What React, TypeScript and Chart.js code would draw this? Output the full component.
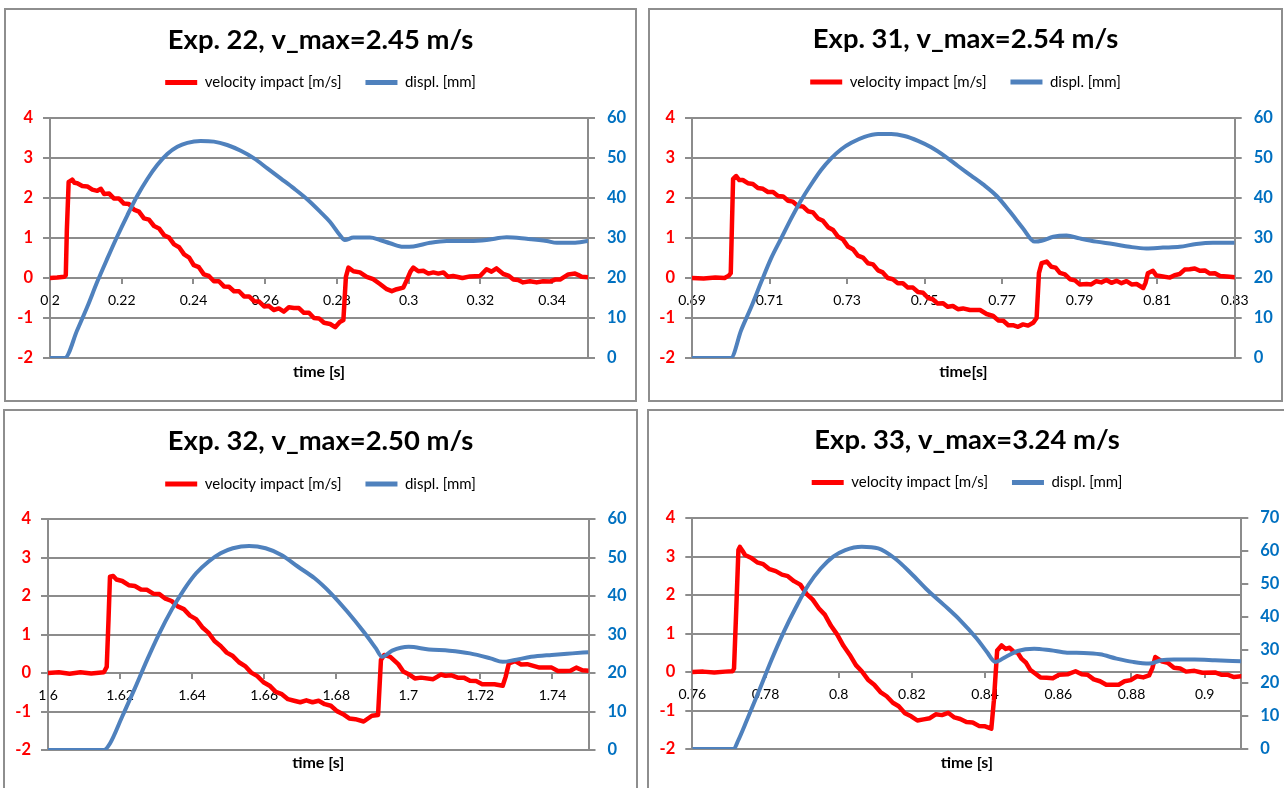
import React, { useEffect, useRef } from "react";
import { Chart, registerables } from "chart.js";

Chart.register(...registerables);

const FONT = "Lato, 'Open Sans', 'DejaVu Sans', sans-serif";
const RED = "#FF0000";
const BLUE = "#4F81BD";
const BLUE_TXT = "#0070C0";
const GRID = "#8C8C8C";
const BORDER = "#8E8E8E";

const VEL_LABEL = "velocity impact [m/s]";
const DISP_LABEL = "displ. [mm]";

// ---------- Exp. 22 ----------
const t22v = [
  0.2, 0.202, 0.204, 0.2044, 0.2047, 0.2052, 0.2058, 0.2062, 0.2068, 0.2076,
  0.209, 0.2104, 0.2118, 0.2132, 0.2142, 0.2151, 0.2165, 0.2178, 0.2192, 0.2206,
  0.222, 0.2234, 0.2248, 0.2262, 0.2276, 0.229, 0.2304, 0.2318, 0.2332, 0.2346,
  0.236, 0.2374, 0.2388, 0.2401, 0.2415, 0.2429, 0.2443, 0.2457, 0.2471, 0.2485,
  0.2499, 0.2513, 0.2527, 0.2541, 0.2555, 0.2569, 0.2583, 0.2597, 0.261, 0.2624,
  0.2638, 0.2652, 0.2666, 0.268, 0.2694, 0.2708, 0.2722, 0.2736, 0.275, 0.2764,
  0.2781, 0.2795, 0.2808, 0.2818, 0.2825, 0.2832, 0.2846, 0.2864, 0.2883, 0.2901,
  0.292, 0.2939, 0.2953, 0.2967, 0.2985, 0.2995, 0.3005, 0.3013, 0.3027, 0.3041,
  0.3055, 0.3069, 0.3083, 0.3097, 0.311, 0.3124, 0.315, 0.3171, 0.3199, 0.3217,
  0.3231, 0.3245, 0.3264, 0.3278, 0.3292, 0.3305, 0.3319, 0.3338, 0.3357, 0.3375,
  0.3394, 0.3408, 0.3422, 0.3445, 0.3464, 0.3472, 0.3482, 0.35,
];
const v22 = [
  0, 0.01, 0.03, 0.07, 1.2, 2.4, 2.43, 2.46, 2.38, 2.37,
  2.3, 2.29, 2.21, 2.18, 2.23, 2.1, 2.11, 1.99, 1.99, 1.86,
  1.85, 1.71, 1.66, 1.49, 1.46, 1.3, 1.24, 1.07, 1.01, 0.84,
  0.77, 0.59, 0.51, 0.32, 0.27, 0.09, 0.05, -0.08, -0.08, -0.21,
  -0.22, -0.33, -0.33, -0.46, -0.46, -0.58, -0.59, -0.71, -0.7, -0.8,
  -0.76, -0.84, -0.73, -0.75, -0.75, -0.87, -0.87, -1.0, -1.01, -1.12,
  -1.15, -1.23, -1.1, -1.05, 0.03, 0.26, 0.17, 0.14, 0.03, -0.03,
  -0.15, -0.28, -0.33, -0.28, -0.24, -0.05, 0.16, 0.26, 0.17, 0.18,
  0.11, 0.14, 0.11, 0.14, 0.03, 0.05, 0.0, 0.04, 0.05, 0.22,
  0.16, 0.24, 0.1, 0.06, -0.04, -0.05, -0.11, -0.08, -0.11, -0.08,
  -0.09, -0.04, -0.04, 0.09, 0.11, 0.08, 0.03, 0.02,
];
const t22d = [0.2, 0.2041, 0.2076, 0.2104, 0.2132, 0.216, 0.2188, 0.2216, 0.2243, 0.2271, 0.2299, 0.2327, 0.2355, 0.2383, 0.242, 0.2457, 0.2494, 0.2532, 0.2569, 0.2606, 0.2643, 0.268, 0.2717, 0.2753, 0.2781, 0.2808, 0.2822, 0.2846, 0.2892, 0.292, 0.2948, 0.2985, 0.3013, 0.306, 0.3106, 0.3171, 0.3217, 0.3273, 0.3329, 0.3385, 0.3413, 0.3459, 0.35];
const d22 = [0, 0, 7.0, 12.8, 19.1, 24.9, 30.5, 35.75, 40.5, 44.7, 48.25, 51.0, 52.8, 53.8, 54.25, 54.1, 53.25, 51.8, 49.9, 47.4, 44.9, 42.4, 39.7, 36.6, 34.0, 30.75, 29.5, 30.1, 30.1, 29.5, 28.7, 27.8, 27.9, 28.8, 29.25, 29.25, 29.5, 30.2, 29.8, 29.25, 28.8, 28.8, 29.25];
const ticks22 = [0.2, 0.22, 0.24, 0.26, 0.28, 0.3, 0.32, 0.34];

// ---------- Exp. 31 ----------
const t31v = [
  0.69, 0.693, 0.696, 0.6984, 0.6995, 0.7, 0.7003, 0.7006, 0.7014, 0.7022,
  0.7031, 0.7044, 0.7057, 0.707, 0.7083, 0.7096, 0.7109, 0.7122, 0.7135, 0.7148,
  0.716, 0.7173, 0.7186, 0.7199, 0.7212, 0.7225, 0.7238, 0.7251, 0.7264, 0.7277,
  0.7289, 0.7302, 0.7315, 0.7328, 0.7341, 0.7354, 0.7367, 0.738, 0.7392, 0.7405,
  0.7418, 0.7431, 0.7444, 0.7457, 0.747, 0.7483, 0.7496, 0.7509, 0.7521, 0.7534,
  0.7547, 0.756, 0.7573, 0.7586, 0.7599, 0.7617, 0.7643, 0.766, 0.7677, 0.769,
  0.7703, 0.7716, 0.7728, 0.7741, 0.7754, 0.7767, 0.778, 0.7789, 0.7795, 0.7802,
  0.7815, 0.7827, 0.7838, 0.7849, 0.7862, 0.7875, 0.7888, 0.79, 0.7918, 0.793,
  0.7943, 0.7956, 0.7969, 0.7982, 0.7995, 0.8008, 0.8021, 0.8034, 0.8047, 0.8064,
  0.807, 0.8076, 0.8089, 0.8098, 0.8107, 0.8133, 0.8145, 0.8158, 0.8171, 0.8184,
  0.8197, 0.821, 0.8223, 0.8236, 0.8249, 0.8262, 0.828, 0.83,
];
const v31 = [
  0, -0.01, 0.01, 0, 0.06, 0.12, 1.3, 2.48, 2.55, 2.45,
  2.45, 2.37, 2.35, 2.25, 2.23, 2.15, 2.15, 2.05, 2.04, 1.93,
  1.91, 1.8, 1.79, 1.67, 1.64, 1.49, 1.43, 1.27, 1.2, 1.03,
  0.97, 0.79, 0.72, 0.56, 0.51, 0.37, 0.34, 0.19, 0.14, 0.0,
  -0.03, -0.13, -0.13, -0.24, -0.24, -0.35, -0.37, -0.5, -0.53, -0.64,
  -0.63, -0.72, -0.7, -0.78, -0.76, -0.8, -0.8, -0.9, -0.95, -1.06,
  -1.07, -1.18, -1.18, -1.22, -1.16, -1.19, -1.12, -1.0, 0.12, 0.37,
  0.41, 0.28, 0.26, 0.13, 0.09, -0.03, -0.06, -0.16, -0.15, -0.16,
  -0.08, -0.11, -0.05, -0.12, -0.07, -0.13, -0.08, -0.16, -0.15, -0.25,
  -0.12, 0.12, 0.18, 0.06, 0.05, 0.01, 0.07, 0.1, 0.21, 0.22,
  0.24, 0.18, 0.19, 0.11, 0.12, 0.05, 0.04, 0.02,
];
const t31d = [0.69, 0.7, 0.7027, 0.7053, 0.7079, 0.7104, 0.713, 0.7156, 0.7182, 0.7208, 0.7233, 0.7259, 0.7285, 0.7311, 0.7345, 0.738, 0.7414, 0.7448, 0.7483, 0.7517, 0.7552, 0.7586, 0.762, 0.7651, 0.7686, 0.772, 0.7754, 0.7784, 0.7802, 0.7832, 0.7866, 0.79, 0.7943, 0.7986, 0.8029, 0.8072, 0.8115, 0.8158, 0.8201, 0.8244, 0.83];
const d31 = [0, 0, 7.0, 12.8, 19.1, 24.9, 29.9, 34.9, 39.5, 43.5, 47.0, 49.9, 52.2, 53.8, 55.3, 56.0, 56.0, 55.5, 54.3, 52.7, 50.5, 48.0, 45.6, 43.4, 40.5, 36.6, 32.4, 29.1, 29.3, 30.3, 30.6, 29.9, 29.1, 28.5, 27.8, 27.4, 27.6, 27.8, 28.5, 28.8, 28.8];
const ticks31 = [0.69, 0.71, 0.73, 0.75, 0.77, 0.79, 0.81, 0.83];

// ---------- Exp. 32 ----------
const t32v = [
  1.6, 1.603, 1.606, 1.609, 1.612, 1.6155, 1.6163, 1.6168, 1.6172, 1.6181,
  1.619, 1.6206, 1.6224, 1.6241, 1.6258, 1.6275, 1.6292, 1.6309, 1.6326, 1.6343,
  1.636, 1.6377, 1.6394, 1.6411, 1.6428, 1.6445, 1.6462, 1.6479, 1.6496, 1.6513,
  1.653, 1.6547, 1.6564, 1.6581, 1.6598, 1.6615, 1.6632, 1.6649, 1.6666, 1.6683,
  1.67, 1.6717, 1.6734, 1.6751, 1.6768, 1.6785, 1.6802, 1.6819, 1.6836, 1.6853,
  1.6876, 1.6899, 1.6916, 1.6924, 1.6933, 1.695, 1.6972, 1.6986, 1.7001, 1.7018,
  1.7035, 1.7069, 1.709, 1.7103, 1.712, 1.7137, 1.7154, 1.7171, 1.7188, 1.7205,
  1.7239, 1.7262, 1.727, 1.7279, 1.7296, 1.7313, 1.733, 1.7364, 1.7398, 1.7415,
  1.7432, 1.745, 1.7466, 1.7483, 1.75,
];
const v32 = [
  0, 0.02, -0.02, 0.02, -0.01, 0.02, 0.16, 1.4, 2.5, 2.52,
  2.43, 2.39, 2.28, 2.26, 2.17, 2.16, 2.06, 2.05, 1.93, 1.87,
  1.73, 1.66, 1.49, 1.4, 1.19, 1.05, 0.83, 0.7, 0.53, 0.44,
  0.28, 0.18, 0.01, -0.08, -0.24, -0.33, -0.49, -0.55, -0.68, -0.72,
  -0.76, -0.71, -0.76, -0.72, -0.81, -0.85, -0.99, -1.07, -1.18, -1.2,
  -1.26, -1.11, -1.09, 0.34, 0.47, 0.42, 0.23, 0.04, -0.03, -0.14,
  -0.12, -0.16, -0.04, -0.07, -0.06, -0.12, -0.12, -0.2, -0.21, -0.29,
  -0.29, -0.33, -0.1, 0.25, 0.31, 0.22, 0.23, 0.14, 0.14, 0.05,
  0.05, 0.06, 0.14, 0.07, 0.06,
];
const t32d = [1.6, 1.6155, 1.6172, 1.6206, 1.6241, 1.6275, 1.6309, 1.6343, 1.6377, 1.6411, 1.6445, 1.6479, 1.6513, 1.6558, 1.6604, 1.6649, 1.6694, 1.674, 1.6785, 1.6831, 1.6876, 1.691, 1.6927, 1.6955, 1.7001, 1.7057, 1.7114, 1.7171, 1.7228, 1.7262, 1.7296, 1.7341, 1.7398, 1.7455, 1.75];
const d32 = [0, 0, 1.7, 8.7, 16.0, 23.4, 30.3, 36.4, 41.6, 45.9, 48.9, 51.1, 52.4, 53.0, 52.4, 50.6, 47.6, 44.6, 40.7, 35.9, 30.7, 26.4, 24.2, 25.8, 26.8, 26.1, 25.8, 25.1, 23.8, 22.9, 23.4, 24.2, 24.7, 25.1, 25.4];
const ticks32 = [1.6, 1.62, 1.64, 1.66, 1.68, 1.7, 1.72, 1.74];

// ---------- Exp. 33 ----------
const t33v = [
  0.76, 0.763, 0.766, 0.769, 0.771, 0.7714, 0.772, 0.7726, 0.773, 0.7737,
  0.7744, 0.776, 0.7777, 0.7794, 0.7811, 0.7828, 0.7845, 0.7861, 0.7878, 0.7895,
  0.7912, 0.7929, 0.7946, 0.7962, 0.7979, 0.7996, 0.8013, 0.803, 0.8047, 0.8063,
  0.808, 0.8097, 0.8114, 0.8131, 0.8148, 0.8164, 0.8181, 0.8198, 0.8215, 0.8232,
  0.8249, 0.8265, 0.8282, 0.8299, 0.8316, 0.8332, 0.8349, 0.8366, 0.8383, 0.84,
  0.8417, 0.8424, 0.8433, 0.8445, 0.8456, 0.8467, 0.8478, 0.8489, 0.85, 0.8512,
  0.8523, 0.8534, 0.8551, 0.8568, 0.8585, 0.8602, 0.8625, 0.8647, 0.8664, 0.868,
  0.8697, 0.8714, 0.8731, 0.8748, 0.8765, 0.8781, 0.8798, 0.8815, 0.8832, 0.8848,
  0.8857, 0.8865, 0.8882, 0.8899, 0.8916, 0.8933, 0.8949, 0.8972, 0.8994, 0.9028,
  0.9045, 0.9062, 0.908, 0.91,
];
const v33 = [
  0, 0.01, -0.01, 0.01, 0.02, 0.09, 1.6, 3.17, 3.25, 3.15,
  3.04, 2.97, 2.85, 2.8, 2.67, 2.62, 2.53, 2.49, 2.36, 2.27,
  2.03, 1.88, 1.65, 1.49, 1.2, 0.97, 0.68, 0.45, 0.18, 0.02,
  -0.2, -0.33, -0.52, -0.63, -0.8, -0.89, -1.07, -1.15, -1.26, -1.23,
  -1.2, -1.1, -1.12, -1.06, -1.18, -1.22, -1.3, -1.31, -1.4, -1.41,
  -1.47, -0.74, 0.56, 0.69, 0.6, 0.63, 0.53, 0.5, 0.34, 0.24,
  0.06, -0.02, -0.14, -0.15, -0.16, -0.07, -0.06, 0.02, -0.06, -0.07,
  -0.19, -0.24, -0.33, -0.33, -0.33, -0.24, -0.21, -0.11, -0.14, -0.09,
  0.1, 0.39, 0.28, 0.24, 0.11, 0.09, 0.01, 0.03, -0.02, -0.01,
  -0.07, -0.07, -0.13, -0.11,
];
const t33d = [0.76, 0.7713, 0.7725, 0.7749, 0.7783, 0.7816, 0.785, 0.7884, 0.7917, 0.7951, 0.7985, 0.8018, 0.8063, 0.8108, 0.8153, 0.8198, 0.8243, 0.8288, 0.8332, 0.8377, 0.8405, 0.8428, 0.8456, 0.8489, 0.8534, 0.8579, 0.8624, 0.8669, 0.8714, 0.8759, 0.8804, 0.8848, 0.8882, 0.8916, 0.8972, 0.9028, 0.91];
const d33 = [0, 0, 2.5, 8.7, 17.8, 26.9, 35.5, 43.1, 49.7, 54.7, 58.3, 60.3, 61.3, 60.8, 57.8, 53.2, 48.1, 43.6, 39.0, 33.5, 29.4, 26.4, 27.9, 29.7, 30.4, 29.9, 29.2, 29.1, 28.7, 27.4, 26.4, 25.9, 26.9, 27.1, 27.1, 26.9, 26.6];
const ticks33 = [0.76, 0.78, 0.8, 0.82, 0.84, 0.86, 0.88, 0.9];

type Spec = {
  title: string;
  xTitle: string;
  tv: number[];
  v: number[];
  td: number[];
  d: number[];
  xTicks: number[];
  xMin: number;
  xMax: number;
  dMax: number;
  box: { left: number; top: number; width: number; height: number };
  g: { yl: number; yr: number; titlePad: number; spacer: number; bottom: number; xtPad: number };
};

const specs: Spec[] = [
  {
    title: "Exp. 22, v_max=2.45 m/s", xTitle: "time [s]",
    tv: t22v, v: v22, td: t22d, d: d22, xTicks: ticks22, xMin: 0.2, xMax: 0.35, dMax: 60,
    box: { left: 4, top: 8, width: 633, height: 394 },
    g: { yl: 44, yr: 47, titlePad: 19.0, spacer: 18.1, bottom: 42, xtPad: 18.4 },
  },
  {
    title: "Exp. 31, v_max=2.54 m/s", xTitle: "time[s]",
    tv: t31v, v: v31, td: t31d, d: d31, xTicks: ticks31, xMin: 0.69, xMax: 0.83, dMax: 60,
    box: { left: 648, top: 8, width: 635, height: 394 },
    g: { yl: 42, yr: 46.3, titlePad: 18.5, spacer: 18.6, bottom: 42, xtPad: 18.4 },
  },
  {
    title: "Exp. 32, v_max=2.50 m/s", xTitle: "time [s]",
    tv: t32v, v: v32, td: t32d, d: d32, xTicks: ticks32, xMin: 1.6, xMax: 1.75, dMax: 60,
    box: { left: 3, top: 409, width: 635, height: 392 },
    g: { yl: 43, yr: 47.5, titlePad: 19.7, spacer: 17.4, bottom: 49, xtPad: 26.4 },
  },
  {
    title: "Exp. 33, v_max=3.24 m/s", xTitle: "time [s]",
    tv: t33v, v: v33, td: t33d, d: d33, xTicks: ticks33, xMin: 0.76, xMax: 0.91, dMax: 70,
    box: { left: 647, top: 409, width: 640, height: 392 },
    g: { yl: 43.3, yr: 43.7, titlePad: 18.0, spacer: 18.1, bottom: 50, xtPad: 26.1 },
  },
];

function buildConfig(s: Spec): any {
  const velData = s.tv.map((x, i) => ({ x, y: s.v[i] }));
  const dispData = s.td.map((x, i) => ({ x, y: s.d[i] }));
  const hidden = {
    ticks: { display: false },
    grid: { display: false, drawTicks: false },
    border: { display: false },
  };
  return {
    type: "line",
    data: {
      datasets: [
        {
          label: VEL_LABEL, data: velData, borderColor: RED, backgroundColor: RED,
          borderWidth: 4.5, pointRadius: 0, tension: 0, xAxisID: "x", yAxisID: "y", order: 1,
          borderJoinStyle: "round", borderCapStyle: "round",
        },
        {
          label: DISP_LABEL, data: dispData, borderColor: BLUE, backgroundColor: BLUE,
          borderWidth: 4, pointRadius: 0, cubicInterpolationMode: "monotone",
          xAxisID: "x", yAxisID: "y2", order: 0, borderJoinStyle: "round",
        },
      ],
    },
    options: {
      responsive: false,
      maintainAspectRatio: false,
      animation: false,
      events: [],
      layout: { padding: 0 },
      plugins: {
        title: {
          display: true, text: s.title, color: "#000",
          font: { family: FONT, size: 27.4, weight: "bold", lineHeight: 0.8 },
          padding: { top: s.g.titlePad, bottom: 0 },
        },
        legend: {
          display: true, position: "top",
          labels: {
            color: "#000", font: { family: FONT, size: 15 },
            boxWidth: 32, boxHeight: 5, padding: 24,
            sort: (a: any, b: any) => a.datasetIndex - b.datasetIndex,
            generateLabels: (chart: any) =>
              (Chart.defaults.plugins.legend.labels as any).generateLabels(chart).map((l: any) => ({ ...l, lineWidth: 0 })),
          },
        },
        tooltip: { enabled: false },
      },
      scales: {
        x: {
          type: "linear", position: { y: 0 }, min: s.xMin, max: s.xMax,
          afterBuildTicks: (sc: any) => { sc.ticks = s.xTicks.map((value) => ({ value })); },
          ticks: {
            autoSkip: false, maxRotation: 0, color: "#000", padding: 8.6,
            font: { family: FONT, size: 14 }, callback: (v: any) => String(v),
          },
          grid: { drawOnChartArea: false, drawTicks: true, tickLength: 5, color: GRID, lineWidth: 2 },
          border: { display: true, color: GRID, width: 2 },
        },
        xs: {
          type: "linear", position: "top", min: s.xMin, max: s.xMax, ...hidden,
          afterFit: (sc: any) => { sc.height = s.g.spacer; },
        },
        xt: {
          type: "linear", position: "bottom", min: s.xMin, max: s.xMax, ...hidden,
          title: {
            display: true, text: s.xTitle, color: "#000",
            font: { family: FONT, size: 16, weight: "bold" },
            padding: { top: 0, bottom: s.g.xtPad },
          },
          afterFit: (sc: any) => { sc.height = s.g.bottom; },
        },
        y: {
          type: "linear", position: "left", min: -2, max: 4,
          ticks: {
            stepSize: 1, color: RED, padding: 10,
            font: { family: FONT, size: 16.5, weight: "bold" }, callback: (v: any) => String(v),
          },
          grid: { color: GRID, lineWidth: 2, tickLength: 7, drawTicks: true },
          border: { display: true, color: GRID, width: 2 },
          afterFit: (sc: any) => { sc.width = s.g.yl; },
        },
        y2: {
          type: "linear", position: "right", min: 0, max: s.dMax,
          ticks: {
            stepSize: 10, color: BLUE_TXT, padding: 12,
            font: { family: FONT, size: 16.5, weight: "bold" }, callback: (v: any) => String(v),
          },
          grid: { drawOnChartArea: false, drawTicks: true, tickLength: 7, color: GRID, lineWidth: 2 },
          border: { display: true, color: GRID, width: 2 },
          afterFit: (sc: any) => { sc.width = s.g.yr; },
        },
      },
    },
  };
}

function Panel({ spec }: { spec: Spec }) {
  const ref = useRef<HTMLCanvasElement | null>(null);
  useEffect(() => {
    const c = ref.current;
    if (!c) return;
    const chart = new Chart(c, buildConfig(spec));
    return () => chart.destroy();
  }, [spec]);
  const w = spec.box.width - 4;
  const h = spec.box.height - 4;
  return (
    <div
      style={{
        position: "absolute", left: spec.box.left, top: spec.box.top,
        width: spec.box.width, height: spec.box.height, boxSizing: "border-box",
        border: `2px solid ${BORDER}`, background: "#fff",
      }}
    >
      <canvas ref={ref} width={w} height={h} style={{ display: "block", width: w, height: h }} />
    </div>
  );
}

export default function App() {
  return (
    <div
      style={{
        position: "absolute", left: 0, top: 0, width: 1284, height: 788,
        overflow: "hidden", background: "#fff",
      }}
    >
      {specs.map((s, i) => (
        <Panel key={i} spec={s} />
      ))}
    </div>
  );
}
